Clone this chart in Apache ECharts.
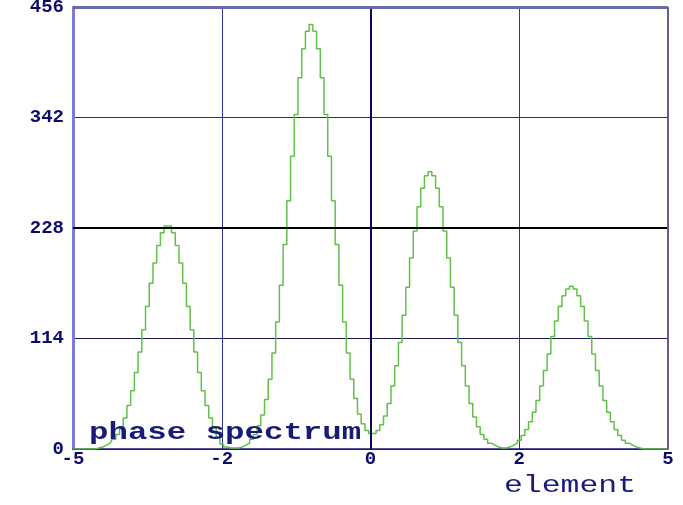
<!DOCTYPE html>
<html>
<head>
<meta charset="utf-8">
<script src="https://cdn.jsdelivr.net/npm/echarts@6/dist/echarts.min.js"></script>
<style>
  html, body { margin: 0; padding: 0; background: #ffffff; }
  #chart { width: 683px; height: 505px; }
</style>
</head>
<body>
<div id="chart"></div>
<script>
// Phase spectrum sampled every 0.05 along the element axis, starting at -4
const xStart = -4;
const xStep = 0.05;
const phaseValues = [
  0, 0, 0, 0, 0, 0, 0,
  1, 2, 4, 6, 10, 15, 23, 32, 45, 60, 79, 100, 123, 147,
  171, 192, 210, 223, 230, 230, 223, 210, 192, 171, 147, 123, 100, 79, 60, 45, 32, 22, 12, 5,
  2, 1, 1, 1, 2, 4, 6, 10, 15, 24, 35, 51, 72, 99, 131, 169, 211, 256, 302, 345,
  383, 413, 431, 438, 431, 413, 383, 345, 302, 256, 211, 169, 131, 99, 72, 52, 36, 26, 19, 16,
  16, 19, 25, 34, 47, 65, 86, 110, 138, 167, 197, 225, 250, 269, 282, 286, 282, 269, 250, 225,
  197, 167, 138, 110, 86, 65, 47, 33, 23, 15, 10, 6, 4, 2, 1, 1, 2, 4, 6, 9,
  14, 20, 28, 38, 50, 65, 81, 98, 116, 132, 147, 158, 165, 168, 165, 158, 147, 132, 116, 98,
  81, 65, 50, 38, 28, 20, 14, 9, 6, 4, 2, 1, 0, 0, 0, 0, 0, 0, 0, 0
];

// Axis ticks and the text printed at them
const xTickValues = [-4, -2, 0, 2, 4];
const xTickLabels = ['-5', '-2', '0', '2', '5'];
const yTickValues = [0, 114, 228, 342, 456];
const yTickLabels = ['0', '114', '228', '342', '456'];

const titleText = 'phase spectrum';
const xAxisName = 'element';

const points = phaseValues.map((v, i) => [+(xStart + i * xStep).toFixed(2), v]);

const chart = echarts.init(document.getElementById('chart'), null, { renderer: 'canvas' });

const labelFont = {
  fontFamily: '"Liberation Mono", "DejaVu Sans Mono", monospace',
  fontWeight: 'bold',
  fontSize: 19,
  color: '#0c0c6a'
};

chart.setOption({
  animation: false,
  backgroundColor: '#ffffff',
  grid: { left: 73, right: 15, top: 7, bottom: 56, containLabel: false, outerBoundsMode: 'none' },
  xAxis: {
    type: 'value',
    min: xTickValues[0],
    max: xTickValues[xTickValues.length - 1],
    interval: 2,
    axisLine: { show: true, onZero: false, lineStyle: { color: '#1a1a80', width: 1.5 } },
    axisTick: { show: false },
    axisLabel: Object.assign({
      margin: 1,
      showMinLabel: true,
      showMaxLabel: true,
      formatter: v => {
        const k = xTickValues.indexOf(v);
        return k >= 0 ? xTickLabels[k] : '';
      }
    }, labelFont),
    splitLine: {
      show: true,
      lineStyle: { color: ['#7070d0', '#3030a0', '#0a0a5a', '#3030a0', '#5f5f90'], width: 1 }
    }
  },
  yAxis: {
    type: 'value',
    min: yTickValues[0],
    max: yTickValues[yTickValues.length - 1],
    interval: 114,
    axisLine: { show: true, onZero: false, lineStyle: { color: '#7c7cd8', width: 3 } },
    axisTick: { show: false },
    axisLabel: Object.assign({
      margin: 9,
      showMinLabel: true,
      showMaxLabel: true,
      formatter: v => {
        const k = yTickValues.indexOf(v);
        return k >= 0 ? yTickLabels[k] : '';
      }
    }, labelFont),
    splitLine: {
      show: true,
      lineStyle: { color: ['#1a1a80', '#1c1c5c', '#000000', '#2a2a80', '#5f5f90'], width: 1 }
    }
  },
  series: [
    {
      // heavier reference lines: centre row, zero column and the frame edges
      type: 'line',
      data: [],
      z: 1,
      silent: true,
      markLine: {
        silent: true,
        symbol: 'none',
        label: { show: false },
        animation: false,
        data: [
          { yAxis: yTickValues[2], lineStyle: { color: '#000000', width: 2, type: 'solid' } },
          { xAxis: xTickValues[2], lineStyle: { color: '#0a0a5a', width: 2, type: 'solid' } },
          { xAxis: xTickValues[4], lineStyle: { color: '#5f5f90', width: 2, type: 'solid' } },
          { yAxis: yTickValues[4], lineStyle: { color: '#6a6aa8', width: 3, type: 'solid' } }
        ]
      }
    },
    {
      name: titleText,
      type: 'line',
      step: 'middle',
      z: 3,
      showSymbol: false,
      symbol: 'none',
      data: points,
      lineStyle: { color: '#62c04a', width: 1.5 }
    }
  ],
  graphic: [
    {
      type: 'text',
      x: 89,
      y: 421,
      scaleX: 1.35,
      z: 10,
      style: {
        text: titleText,
        font: 'bold 24px "Liberation Mono", monospace',
        fill: '#1a1a78',
        align: 'left',
        verticalAlign: 'top'
      }
    },
    {
      type: 'text',
      x: 504,
      y: 474,
      scaleX: 1.31,
      z: 10,
      style: {
        text: xAxisName,
        font: '24px "Liberation Mono", monospace',
        fill: '#1a1a78',
        align: 'left',
        verticalAlign: 'top'
      }
    }
  ]
});
</script>
</body>
</html>
